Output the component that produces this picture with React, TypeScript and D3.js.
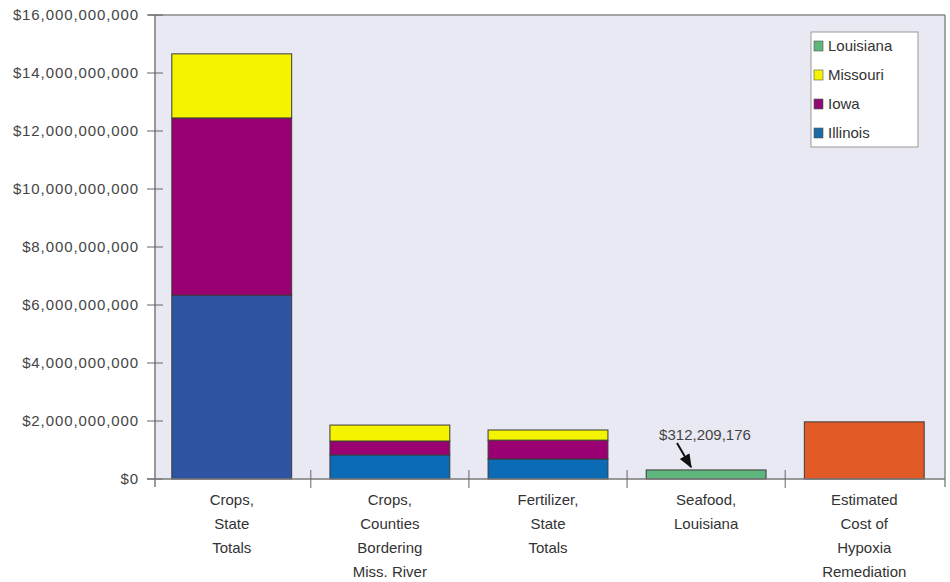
import React from "react";
import * as d3 from "d3";

const categories = [
  ["Crops,", "State", "Totals"],
  ["Crops,", "Counties", "Bordering", "Miss. River"],
  ["Fertilizer,", "State", "Totals"],
  ["Seafood,", "Louisiana"],
  ["Estimated", "Cost of", "Hypoxia", "Remediation"],
];
const illinois = [6.34e9, 0.83e9, 0.69e9, 0, 0];
const iowa = [6.11e9, 0.48e9, 0.65e9, 0, 0];
const missouri = [2.21e9, 0.55e9, 0.35e9, 0, 0];
const louisiana = [0, 0, 0, 312209176, 0];
const remediation = [0, 0, 0, 0, 1.97e9];
const yTicks = [0, 2e9, 4e9, 6e9, 8e9, 10e9, 12e9, 14e9, 16e9];
const legendItems = ["Louisiana", "Missouri", "Iowa", "Illinois"];
const annotationText = "$312,209,176";

const seriesKeys = ["Illinois", "Iowa", "Missouri", "Louisiana", "Remediation"];
const colors: Record<string, string> = {
  Illinois: "#0b6bb4",
  Iowa: "#9a0072",
  Missouri: "#f4f400",
  Louisiana: "#5fb67c",
  Remediation: "#e25a25",
};
const legendColors: Record<string, string> = {
  Louisiana: "#5fb67c",
  Missouri: "#f4f400",
  Iowa: "#8e0a70",
  Illinois: "#1c6aa6",
};

export default function App() {
  const W = 950, H = 582;
  const left = 155, right = 945, top = 15, bottom = 479;
  const rows = categories.map((_, i) => ({
    idx: i,
    Illinois: illinois[i],
    Iowa: iowa[i],
    Missouri: missouri[i],
    Louisiana: louisiana[i],
    Remediation: remediation[i],
  }));
  const stacked = d3.stack<any>().keys(seriesKeys)(rows);
  const x = d3
    .scaleBand<number>()
    .domain(categories.map((_, i) => i))
    .range([156, 940])
    .paddingInner(0.242)
    .paddingOuter(0.1);
  const y = d3.scaleLinear().domain([0, 16e9]).range([bottom, top]);
  const fmt = (v: number) => "$" + d3.format(",")(v);
  const font = "Arial, 'Liberation Sans', Helvetica, sans-serif";
  const step = x.step();
  const boundaries = d3.range(1, categories.length).map((i) => x(i)! - (step - x.bandwidth()) / 2);

  return (
    <svg width={W} height={H} style={{ position: "absolute", left: 0, top: 0, background: "#fff" }}>
      <defs>
        <marker id="arr" viewBox="0 0 10 10" refX="9" refY="5" markerWidth="7" markerHeight="7" orient="auto">
          <path d="M0,1 L10,5 L0,9 z" fill="#111" />
        </marker>
      </defs>
      <rect x={left} y={top} width={right - left} height={bottom - top} fill="#e9e9f3" />
      <line x1={148} x2={right} y1={top} y2={top} stroke="#8a8a8a" strokeWidth={1.5} />
      <line x1={right} x2={right} y1={top} y2={bottom + 8} stroke="#8a8a8a" strokeWidth={1.5} />
      {stacked.map((s) =>
        s.map((d, i) => {
          if (d[1] - d[0] <= 0) return null;
          let fill = colors[s.key];
          if (s.key === "Illinois" && i === 0) fill = "#2d53a2";
          return (
            <rect
              key={s.key + i}
              x={x(i)!}
              width={x.bandwidth()}
              y={y(d[1])}
              height={y(d[0]) - y(d[1])}
              fill={fill}
              stroke="#3a3a3a"
              strokeWidth={1}
            />
          );
        })
      )}
      {/* y axis */}
      <line x1={left} x2={left} y1={top} y2={bottom + 8} stroke="#7a7a7a" strokeWidth={1.5} />
      {yTicks.map((t) => (
        <g key={t}>
          <line x1={147} x2={163} y1={y(t)} y2={y(t)} stroke="#666" strokeWidth={1} />
          <text
            x={139}
            y={y(t)}
            dy="0.35em"
            textAnchor="end"
            fontFamily={font}
            fontSize={15}
            letterSpacing={0.9}
            fill="#444"
          >
            {fmt(t)}
          </text>
        </g>
      ))}
      {/* x axis */}
      <line x1={left - 8} x2={right} y1={bottom} y2={bottom} stroke="#7a7a7a" strokeWidth={1.5} />
      {boundaries.map((bx, i) => (
        <line key={i} x1={bx} x2={bx} y1={bottom - 9} y2={bottom + 9} stroke="#666" strokeWidth={1} />
      ))}
      {categories.map((lines, i) => (
        <text
          key={i}
          x={x(i)! + x.bandwidth() / 2}
          y={505}
          textAnchor="middle"
          fontFamily={font}
          fontSize={15}
          fill="#333"
        >
          {lines.map((l, j) => (
            <tspan key={j} x={x(i)! + x.bandwidth() / 2} y={505 + j * 24}>
              {l}
            </tspan>
          ))}
        </text>
      ))}
      {/* annotation */}
      <text x={705} y={440} textAnchor="middle" fontFamily={font} fontSize={15} fill="#444">
        {annotationText}
      </text>
      <line
        x1={677}
        y1={443}
        x2={691}
        y2={y(louisiana[3]) - 3}
        stroke="#111"
        strokeWidth={2}
        markerEnd="url(#arr)"
      />
      {/* legend */}
      <rect x={811} y={32} width={107} height={115} fill="#fff" stroke="#999" strokeWidth={1} />
      {legendItems.map((k, i) => (
        <g key={k}>
          <rect x={814} y={41 + i * 29} width={9} height={10} fill={legendColors[k]} stroke="#555" strokeWidth={0.6} />
          <text x={828} y={46 + i * 29} dy="0.35em" fontFamily={font} fontSize={15} fill="#333">
            {k}
          </text>
        </g>
      ))}
    </svg>
  );
}
